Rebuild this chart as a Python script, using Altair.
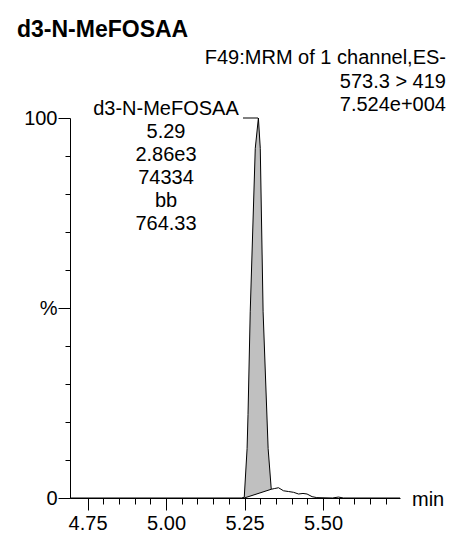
import altair as alt
import pandas as pd

# ---- data ----
time_min = [4.694, 5.240, 5.249, 5.258, 5.261, 5.268, 5.284, 5.294, 5.300, 5.309,
            5.325, 5.335, 5.346, 5.358, 5.374, 5.390, 5.406, 5.422, 5.436, 5.449,
            5.465, 5.480, 5.530, 5.549, 5.565, 5.745]
intensity_pct = [0, 0, 0.2, 13, 22, 49, 92, 100, 92, 49,
                 13, 2.3, 2.5, 2.7, 1.9, 1.7, 1.5, 1.05, 1.2, 1.05,
                 0.35, 0.1, 0, 0.25, 0, 0]

peak_time = [5.249, 5.258, 5.261, 5.268, 5.284, 5.294, 5.300, 5.309, 5.325, 5.335]
peak_intensity = [0.2, 13, 22, 49, 92, 100, 92, 49, 13, 2.3]
peak_baseline = [0, 0.24, 0.32, 0.51, 0.94, 1.2, 1.36, 1.6, 2.03, 2.3]

baseline_time = [5.249, 5.335]
baseline_pct = [0.0, 2.3]

x_major = [4.75, 5.00, 5.25, 5.50]
x_minor = [4.75, 4.80, 4.85, 4.90, 4.95, 5.00, 5.05, 5.10, 5.15, 5.20, 5.25,
           5.30, 5.35, 5.40, 5.45, 5.50, 5.55, 5.60, 5.65, 5.70]
y_major = [0, 50, 100]
y_minor = [10, 20, 30, 40, 60, 70, 80, 90]
x_domain = [4.694, 5.745]

title_text = "d3-N-MeFOSAA"
header_lines = ["F49:MRM of 1 channel,ES-", "573.3 > 419", "7.524e+004"]
peak_label_lines = ["d3-N-MeFOSAA", "5.29", "2.86e3", "74334", "bb", "764.33"]
x_unit = "min"

FONT = "Liberation Sans"
FS = 20
W, H = 330, 380

trace = pd.DataFrame({"t": time_min, "i": intensity_pct})
peak = pd.DataFrame({"t": peak_time, "i": peak_intensity, "b": peak_baseline})
base = pd.DataFrame({"t": baseline_time, "i": baseline_pct})
one = pd.DataFrame({"k": [0]})

xscale = alt.Scale(domain=x_domain, nice=False, zero=False)
yscale = alt.Scale(domain=[0, 100], nice=False)

area = alt.Chart(peak).mark_area(color="#c0c0c0", interpolate="linear").encode(
    x=alt.X("t:Q", scale=xscale, axis=None),
    y=alt.Y("i:Q", scale=yscale, axis=None),
    y2="b:Q",
)

line = alt.Chart(trace).mark_line(color="black", strokeWidth=1).encode(
    x=alt.X("t:Q", scale=xscale, axis=alt.Axis(
        orient="bottom", values=x_major, format=".2f", tickSize=12, labelPadding=3,
        grid=False, title=None, domainColor="black", tickColor="black",
        labelColor="black", labelFontSize=FS, labelFont=FONT, labelFlush=False,
        labelOverlap=False, domainWidth=1, tickWidth=1)),
    y=alt.Y("i:Q", scale=yscale, axis=alt.Axis(
        orient="left", values=y_major, format="d",
        labelExpr="datum.value == 50 ? '%' : datum.label",
        tickSize=12, labelPadding=1, grid=False, title=None,
        domainColor="black", tickColor="black", labelColor="black",
        labelFontSize=FS, labelFont=FONT, labelFlush=False, labelOverlap=False,
        domainWidth=1, tickWidth=1)),
)

base_line = alt.Chart(base).mark_line(color="black", strokeWidth=1).encode(
    x=alt.X("t:Q", scale=xscale, axis=alt.Axis(
        orient="bottom", values=x_minor, tickSize=6, labels=False, domain=False,
        grid=False, title=None, tickColor="black", tickWidth=1)),
    y=alt.Y("i:Q", scale=yscale, axis=alt.Axis(
        orient="left", values=y_minor, tickSize=5, labels=False, domain=False,
        grid=False, title=None, tickColor="black", tickWidth=1)),
)

leader = alt.Chart(one).mark_rule(color="black", strokeWidth=1).encode(
    x=alt.value(173), x2=alt.value(188), y=alt.value(0)
)

title = alt.Chart(one).mark_text(font=FONT, fontSize=23, fontWeight="bold",
                                 align="left", baseline="alphabetic", color="black").encode(
    x=alt.value(-53), y=alt.value(-81), text=alt.value(title_text))

header = alt.Chart(one).mark_text(font=FONT, fontSize=FS, align="right",
                                  baseline="alphabetic", lineHeight=23.5, color="black").encode(
    x=alt.value(376), y=alt.value(-54), text=alt.value(header_lines))

peak_label = alt.Chart(one).mark_text(font=FONT, fontSize=FS, align="center",
                                      baseline="alphabetic", lineHeight=23, color="black").encode(
    x=alt.value(96), y=alt.value(-3), text=alt.value(peak_label_lines))

unit = alt.Chart(one).mark_text(font=FONT, fontSize=FS, align="left",
                                baseline="middle", color="black").encode(
    x=alt.value(342), y=alt.value(H + 2), text=alt.value(x_unit))

chart = alt.layer(area, line, base_line, leader, title, header, peak_label, unit).resolve_axis(
    x="independent", y="independent"
).properties(
    width=W, height=H,
    padding={"left": 62, "top": 110, "right": 48, "bottom": 34},
    autosize=alt.AutoSizeParams(type="none"),
).configure_view(stroke=None)

chart.save("out.html", embed_options={"renderer": "svg", "actions": False})
